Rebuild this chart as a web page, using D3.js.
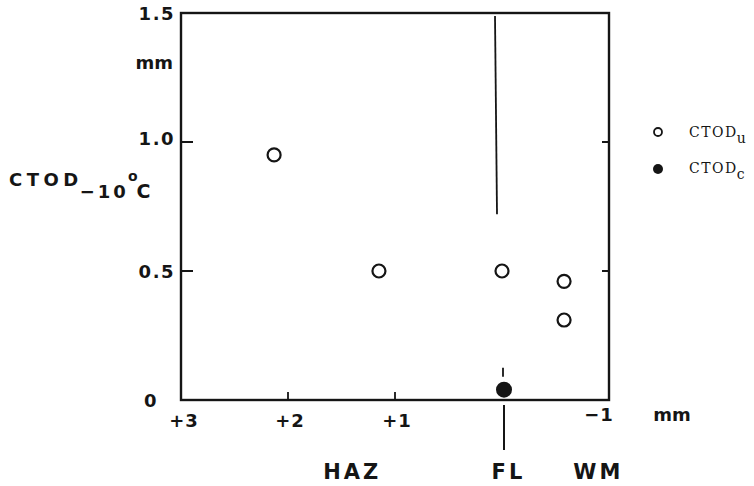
<!DOCTYPE html>
<html><head><meta charset="utf-8">
<script src="https://cdn.jsdelivr.net/npm/d3@7"></script>
<style>body{margin:0;background:#fff}</style>
</head><body>
<script>
// Data
const openX = [2.13, 1.15, 0.0, -0.58, -0.58];
const openY = [0.95, 0.50, 0.50, 0.46, 0.31];
const filledX = [0.0];
const filledY = [0.04];
const yTicks = [0, 0.5, 1.0, 1.5];
const yTickLabels = ["0", "0.5", "1.0", "1.5"];
const xTicks = [3, 2, 1, -1];
const xTickLabels = ["+3", "+2", "+1", "\u22121"];
const zones = ["HAZ", "FL", "WM"];
const zonePos = [1.4, -0.06, -0.9];
const legendLabels = ["CTOD", "CTOD"];
const legendSubs = ["u", "c"];
const flLineTop = 1.5, flLineBottom = 0.72;

const W = 754, H = 486;
const svg = d3.select("body").append("svg").attr("width", W).attr("height", H);
const x = d3.scaleLinear().domain([3, -1]).range([181, 609]);
const y = d3.scaleLinear().domain([0, 1.5]).range([400, 13]);
const ink = "#151515";
const sans = "'DejaVu Sans', Verdana, sans-serif";

// Frame
svg.append("rect").attr("x", x(3)).attr("y", y(1.5))
  .attr("width", x(-1) - x(3)).attr("height", y(0) - y(1.5))
  .attr("fill", "none").attr("stroke", ink).attr("stroke-width", 2.4);

// Left inner ticks
svg.selectAll(".ly").data([0.5, 1.0]).enter().append("line")
  .attr("x1", x(3)).attr("x2", x(3) + 12).attr("y1", d => y(d)).attr("y2", d => y(d))
  .attr("stroke", ink).attr("stroke-width", 2);
// Right inner ticks
svg.selectAll(".ry").data([0.5, 1.0]).enter().append("line")
  .attr("x1", x(-1)).attr("x2", x(-1) - 7).attr("y1", d => y(d)).attr("y2", d => y(d))
  .attr("stroke", ink).attr("stroke-width", 2);
// Bottom inner ticks
svg.selectAll(".bx").data([2, 1]).enter().append("line")
  .attr("x1", d => x(d)).attr("x2", d => x(d)).attr("y1", y(0)).attr("y2", y(0) - 8)
  .attr("stroke", ink).attr("stroke-width", 1.8);

// Y tick labels
svg.selectAll(".yl").data(yTicks).enter().append("text")
  .attr("x", (d, i) => i === 0 ? 158 : 175).attr("y", (d, i) => y(d) + (i === 2 ? 3 : 7))
  .attr("text-anchor", "end").attr("font-family", sans).attr("font-weight", "bold")
  .attr("font-size", 18).attr("letter-spacing", 1.5).attr("fill", ink)
  .text((d, i) => yTickLabels[i]);
svg.append("text").attr("x", 173).attr("y", 69).attr("text-anchor", "end")
  .attr("font-family", sans).attr("font-weight", "bold").attr("font-size", 18)
  .attr("fill", ink).text("mm");

// Y axis title
const yt = svg.append("text").attr("x", 9).attr("y", 186).attr("font-family", sans)
  .attr("font-weight", "bold").attr("font-size", 18).attr("letter-spacing", 4.5).attr("fill", ink);
yt.append("tspan").text("CTOD");
yt.append("tspan").attr("dy", 12).attr("dx", -3).attr("font-size", 18).attr("letter-spacing", 3).text("\u221210");
yt.append("tspan").attr("dy", -17).attr("dx", -1).attr("font-size", 14).attr("letter-spacing", 0).text("o");
yt.append("tspan").attr("dy", 17).attr("dx", -1).attr("font-size", 19).attr("letter-spacing", 0).text("C");

// X tick labels
svg.selectAll(".xl").data(xTicks).enter().append("text")
  .attr("x", d => x(d) + (d === 3 ? 3 : d === -1 ? -10 : 2)).attr("y", d => d === -1 ? 421 : 427)
  .attr("text-anchor", "middle").attr("font-family", sans).attr("font-weight", "bold")
  .attr("font-size", 18).attr("letter-spacing", 1).attr("fill", ink)
  .text((d, i) => xTickLabels[i]);
svg.append("text").attr("x", 672).attr("y", 421).attr("text-anchor", "middle")
  .attr("font-family", sans).attr("font-weight", "bold").attr("font-size", 18)
  .attr("fill", ink).text("mm");

// Zone labels
svg.selectAll(".zl").data(zones).enter().append("text")
  .attr("x", (d, i) => x(zonePos[i])).attr("y", 479)
  .attr("text-anchor", "middle").attr("font-family", sans).attr("font-weight", "bold")
  .attr("font-size", 21).attr("letter-spacing", 3).attr("fill", ink).text(d => d);

// FL lines
svg.append("line").attr("x1", x(0) - 7).attr("x2", x(0) - 5)
  .attr("y1", y(flLineTop) + 3).attr("y2", y(flLineBottom))
  .attr("stroke", ink).attr("stroke-width", 1.8);
svg.append("line").attr("x1", x(0) + 1).attr("x2", x(0) + 1)
  .attr("y1", y(0.125)).attr("y2", y(0.09))
  .attr("stroke", ink).attr("stroke-width", 1.8);
svg.append("line").attr("x1", x(0) + 2).attr("x2", x(0) + 2)
  .attr("y1", y(0) + 5).attr("y2", y(0) + 50)
  .attr("stroke", ink).attr("stroke-width", 2);

// Points
svg.selectAll(".op").data(openX).enter().append("circle")
  .attr("cx", d => x(d)).attr("cy", (d, i) => y(openY[i])).attr("r", 6.5)
  .attr("fill", "none").attr("stroke", ink).attr("stroke-width", 2.2);
svg.selectAll(".fp").data(filledX).enter().append("circle")
  .attr("cx", d => x(d) + 2).attr("cy", (d, i) => y(filledY[i])).attr("r", 8)
  .attr("fill", ink);

// Legend
const lg = svg.append("g");
lg.append("circle").attr("cx", 658).attr("cy", 132).attr("r", 4)
  .attr("fill", "none").attr("stroke", ink).attr("stroke-width", 1.8);
lg.append("circle").attr("cx", 658).attr("cy", 169).attr("r", 5).attr("fill", ink);
legendLabels.forEach((t, i) => {
  const tx = lg.append("text").attr("x", 689).attr("y", 137 + i * 36)
    .attr("font-family", "'DejaVu Serif', 'Liberation Serif', serif")
    .attr("font-size", 14).attr("letter-spacing", 1.5).attr("fill", ink);
  tx.append("tspan").text(t);
  tx.append("tspan").attr("dy", 6).attr("dx", -1).attr("font-size", 14).text(legendSubs[i]);
});
</script>
</body></html>
